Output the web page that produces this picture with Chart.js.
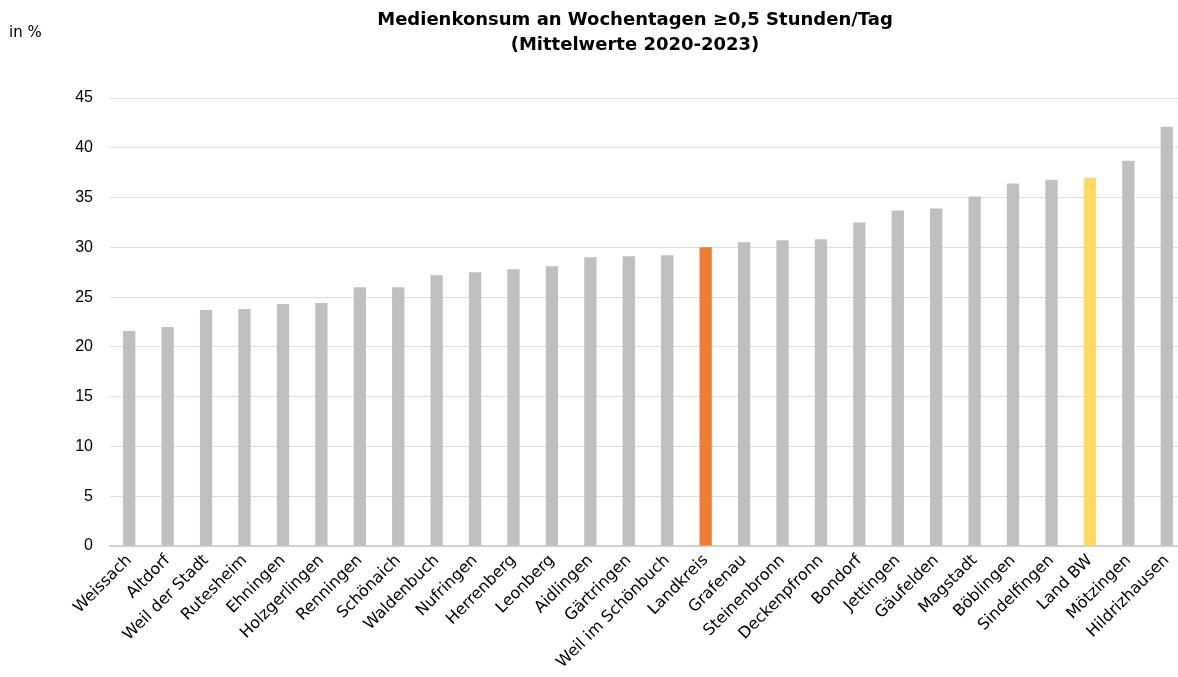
<!DOCTYPE html>
<html>
<head>
<meta charset="utf-8">
<script src="https://cdn.jsdelivr.net/npm/chart.js@4/dist/chart.umd.min.js"></script>
<style>
html, body { margin: 0; padding: 0; overflow: hidden; background: #fff; }
canvas { display: block; }
</style>
</head>
<body>
<canvas id="c" width="1186" height="677"></canvas>
<script>
const categories = ["Weissach","Altdorf","Weil der Stadt","Rutesheim","Ehningen","Holzgerlingen","Renningen","Schönaich","Waldenbuch","Nufringen","Herrenberg","Leonberg","Aidlingen","Gärtringen","Weil im Schönbuch","Landkreis","Grafenau","Steinenbronn","Deckenpfronn","Bondorf","Jettingen","Gäufelden","Magstadt","Böblingen","Sindelfingen","Land BW","Mötzingen","Hildrizhausen"];
const values = [21.6,22.0,23.7,23.8,24.3,24.4,26.0,26.0,27.2,27.5,27.8,28.1,29.0,29.1,29.2,30.0,30.5,30.7,30.8,32.5,33.7,33.9,35.1,36.4,36.8,37.0,38.7,42.1];
const titleLines = ["Medienkonsum an Wochentagen ≥0,5 Stunden/Tag", "(Mittelwerte 2020-2023)"];
const unitLabel = "in %";
const yTicks = [0,5,10,15,20,25,30,35,40,45];

const FONT = '"DejaVu Sans", "Open Sans", sans-serif';
const NUMFONT = '"Liberation Sans", Arial, sans-serif';
function barColor(name) {
  if (name === "Landkreis") return "#ED7D31";
  if (name === "Land BW") return "#FFD966";
  return "#BFBFBF";
}

const textPlugin = {
  id: 'texts',
  afterDraw(chart) {
    const ctx = chart.ctx;
    ctx.save();
    ctx.fillStyle = '#000';
    ctx.textAlign = 'center';
    ctx.textBaseline = 'middle';
    ctx.font = 'bold 18px ' + FONT;
    ctx.fillText(titleLines[0], 635, 20);
    ctx.fillText(titleLines[1], 635, 45);
    ctx.font = '15px ' + FONT;
    ctx.textAlign = 'left';
    ctx.fillText(unitLabel, 9, 33);
    ctx.restore();
  }
};

new Chart(document.getElementById('c'), {
  type: 'bar',
  data: {
    labels: categories,
    datasets: [{
      data: values,
      backgroundColor: categories.map(barColor),
      barPercentage: 0.32,
      categoryPercentage: 1.0
    }]
  },
  options: {
    responsive: false,
    animation: false,
    layout: { padding: { top: 98, left: 0, right: 0, bottom: 0 } },
    plugins: {
      legend: { display: false },
      title: { display: false },
      tooltip: { enabled: false }
    },
    scales: {
      x: {
        grid: { display: false, drawTicks: false },
        border: { display: true, color: '#D0D0D0', width: 2 },
        ticks: {
          color: '#000',
          font: { family: FONT, size: 16 },
          maxRotation: 45,
          minRotation: 45,
          autoSkip: false,
          padding: 5
        },
        afterFit(scale) { scale.height = 131; }
      },
      y: {
        min: 0,
        max: 45,
        afterBuildTicks(scale) { scale.ticks = yTicks.map(v => ({ value: v })); },
        grid: { color: '#DDDDDD', lineWidth: 1, drawTicks: false },
        border: { display: false },
        ticks: {
          color: '#000',
          font: { family: NUMFONT, size: 16 },
          padding: 17
        },
        afterFit(scale) { scale.width = 110; }
      }
    }
  },
  plugins: [textPlugin]
});
</script>
</body>
</html>
